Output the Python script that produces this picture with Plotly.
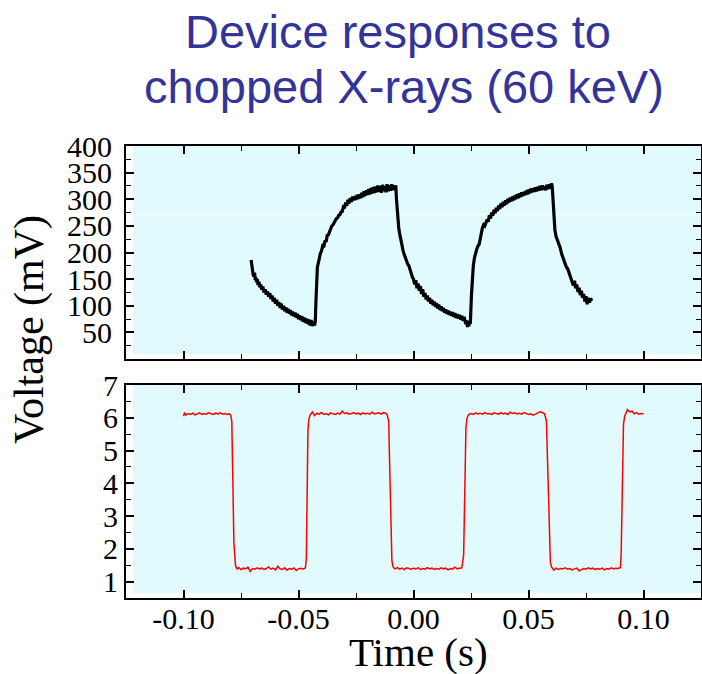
import plotly.graph_objects as go

# ---------------- data ----------------
# Top panel: device response (mV) vs time (s)
resp_t = [
    -0.0706, -0.0703, -0.0700, -0.0697, -0.0694, -0.0691, -0.0688, -0.0685, -0.0682, -0.0679,
    -0.0676, -0.0672, -0.0668, -0.0664, -0.0660, -0.0655, -0.0650, -0.0645, -0.0640, -0.0635,
    -0.0630, -0.0625, -0.0620, -0.0615, -0.0610, -0.0605, -0.0600, -0.0595, -0.0590, -0.0585,
    -0.0580, -0.0575, -0.0570, -0.0565, -0.0560, -0.0555, -0.0550, -0.0545, -0.0540, -0.0535,
    -0.0530, -0.0525, -0.0520, -0.0515, -0.0510, -0.0505, -0.0500, -0.0495, -0.0490, -0.0485,
    -0.0480, -0.0475, -0.0470, -0.0465, -0.0460, -0.0455, -0.0450, -0.0445, -0.0440, -0.0435,
    -0.0430, -0.0427,
    -0.0424, -0.0421, -0.0418, -0.0414, -0.0410, -0.0405, -0.0400, -0.0395, -0.0390, -0.0385,
    -0.0380, -0.0375, -0.0370, -0.0365, -0.0360, -0.0355, -0.0350, -0.0345, -0.0340, -0.0335,
    -0.0330, -0.0325, -0.0320, -0.0315, -0.0310, -0.0305, -0.0300, -0.0295, -0.0290, -0.0285,
    -0.0280, -0.0275, -0.0270, -0.0265, -0.0260, -0.0255, -0.0250, -0.0245, -0.0240, -0.0235,
    -0.0230, -0.0225, -0.0220, -0.0215, -0.0210, -0.0205, -0.0200, -0.0195, -0.0190, -0.0185,
    -0.0180, -0.0175, -0.0170, -0.0165, -0.0160, -0.0155, -0.0150, -0.0145, -0.0140, -0.0135,
    -0.0130, -0.0125, -0.0120, -0.0115, -0.0110, -0.0105, -0.0100, -0.0095, -0.0090, -0.0085,
    -0.0080, -0.0077,
    -0.0074, -0.0071, -0.0068, -0.0064, -0.0060, -0.0055, -0.0050, -0.0045, -0.0040, -0.0035,
    -0.0030, -0.0025, -0.0020, -0.0015, -0.0010, -0.0005, 0.0000, 0.0005, 0.0010, 0.0015,
    0.0020, 0.0025, 0.0030, 0.0035, 0.0040, 0.0045, 0.0050, 0.0055, 0.0060, 0.0065,
    0.0070, 0.0075, 0.0080, 0.0085, 0.0090, 0.0095, 0.0100, 0.0105, 0.0110, 0.0115,
    0.0120, 0.0125, 0.0130, 0.0135, 0.0140, 0.0145, 0.0150, 0.0155, 0.0160, 0.0165,
    0.0170, 0.0175, 0.0180, 0.0185, 0.0190, 0.0195, 0.0200, 0.0205, 0.0210, 0.0215,
    0.0220, 0.0225, 0.0230, 0.0235, 0.0238, 0.0241, 0.0244, 0.0247,
    0.0252, 0.0256, 0.0260, 0.0265, 0.0270, 0.0275, 0.0280, 0.0285, 0.0290, 0.0295,
    0.0300, 0.0305, 0.0310, 0.0315, 0.0320, 0.0325, 0.0330, 0.0335, 0.0340, 0.0345,
    0.0350, 0.0355, 0.0360, 0.0365, 0.0370, 0.0375, 0.0380, 0.0385, 0.0390, 0.0395,
    0.0400, 0.0405, 0.0410, 0.0415, 0.0420, 0.0425, 0.0430, 0.0435, 0.0440, 0.0445,
    0.0450, 0.0455, 0.0460, 0.0465, 0.0470, 0.0475, 0.0480, 0.0485, 0.0490, 0.0495,
    0.0500, 0.0505, 0.0510, 0.0515, 0.0520, 0.0525, 0.0530, 0.0535, 0.0540, 0.0545,
    0.0550, 0.0555, 0.0560, 0.0565, 0.0570, 0.0575, 0.0580, 0.0585, 0.0590, 0.0595,
    0.0600, 0.0603,
    0.0607, 0.0611, 0.0615, 0.0620, 0.0625, 0.0630, 0.0637, 0.0645, 0.0650, 0.0655,
    0.0660, 0.0665, 0.0670, 0.0675, 0.0680, 0.0685, 0.0690, 0.0695, 0.0700, 0.0705,
    0.0710, 0.0715, 0.0720, 0.0725, 0.0730, 0.0735, 0.0740, 0.0745, 0.0750, 0.0755,
    0.0760, 0.0765, 0.0770, 0.0775,
]
resp_mv = [
    186, 172, 168, 158, 155, 162, 148, 153, 144, 150,
    139, 145, 135, 140, 130, 136, 125, 131, 121, 127,
    117, 124, 113, 119, 108, 115, 104, 111, 100, 107,
    96, 104, 93, 100, 90, 97, 87, 94, 85, 92,
    82, 89, 80, 87, 78, 85, 75, 82, 73, 80,
    70, 78, 68, 76, 66, 74, 63, 73, 62, 70,
    63, 71,
    110, 150, 172, 180, 190, 198, 203, 212, 210, 222,
    220, 232, 233, 240, 243, 250, 252, 257, 259, 264,
    265, 270, 271, 276, 277, 285, 283, 294, 288, 299,
    292, 302, 295, 305, 298, 306, 299, 308, 301, 309,
    302, 312, 304, 315, 306, 317, 308, 319, 309, 321,
    311, 323, 312, 324, 313, 326, 314, 325, 312, 327,
    315, 325, 313, 328, 315, 326, 316, 328, 317, 326,
    318, 326,
    300, 275, 258, 245, 235, 222, 212, 203, 196, 188,
    184, 178, 175, 168, 160, 154, 150, 140, 148, 133,
    142, 128, 137, 122, 131, 117, 124, 112, 119, 108,
    115, 104, 111, 101, 108, 98, 105, 95, 102, 92,
    99, 90, 96, 87, 93, 85, 91, 83, 89, 81,
    88, 79, 86, 77, 84, 76, 83, 74, 81, 72,
    79, 70, 72, 60, 72, 62, 70, 66,
    120, 160, 175, 190, 200, 206, 212, 215, 225, 240,
    247, 252, 250, 256, 262, 258, 270, 264, 275, 269,
    280, 274, 284, 278, 288, 282, 292, 285, 295, 288,
    298, 291, 301, 294, 303, 296, 305, 298, 307, 300,
    309, 302, 311, 304, 313, 306, 314, 308, 316, 309,
    318, 311, 320, 313, 321, 314, 322, 315, 323, 316,
    325, 317, 326, 318, 324, 317, 327, 319, 328, 320,
    330, 325,
    290, 255, 241, 230, 225, 218, 210, 196, 190, 180,
    178, 172, 170, 163, 158, 152, 147, 138, 147, 133,
    140, 126, 134, 120, 128, 115, 122, 108, 118, 103,
    115, 106, 114, 109,
]

# Bottom panel: chopper reference signal (V) vs time (s)
chop_t = [
    -0.1000, -0.0995, -0.0990, -0.0980, -0.0970, -0.0960, -0.0950, -0.0940, -0.0930, -0.0920,
    -0.0910, -0.0900, -0.0890, -0.0880, -0.0870, -0.0860, -0.0850, -0.0840, -0.0830, -0.0820,
    -0.0810, -0.0800, -0.0795,
    -0.0790, -0.0787, -0.0784, -0.0781, -0.0778, -0.0774, -0.0770,
    -0.0765, -0.0760, -0.0750, -0.0740, -0.0730, -0.0720, -0.0710, -0.0700, -0.0690, -0.0680,
    -0.0670, -0.0660, -0.0650, -0.0640, -0.0630, -0.0620, -0.0610, -0.0600, -0.0590, -0.0580,
    -0.0570, -0.0560, -0.0550, -0.0540, -0.0530, -0.0520, -0.0510, -0.0500, -0.0490, -0.0480,
    -0.0470,
    -0.0466, -0.0464, -0.0462, -0.0459, -0.0455, -0.0450,
    -0.0445, -0.0440, -0.0430, -0.0420, -0.0410, -0.0400, -0.0390, -0.0380, -0.0370, -0.0360,
    -0.0350, -0.0340, -0.0330, -0.0320, -0.0310, -0.0300, -0.0290, -0.0280, -0.0270, -0.0260,
    -0.0250, -0.0240, -0.0230, -0.0220, -0.0210, -0.0200, -0.0190, -0.0180, -0.0170, -0.0160,
    -0.0150, -0.0140, -0.0130, -0.0120, -0.0115,
    -0.0108, -0.0105, -0.0102, -0.0098, -0.0094, -0.0090, -0.0086,
    -0.0080, -0.0070, -0.0060, -0.0050, -0.0040, -0.0030, -0.0020, -0.0010, 0.0000, 0.0010,
    0.0020, 0.0030, 0.0040, 0.0050, 0.0060, 0.0070, 0.0080, 0.0090, 0.0100, 0.0110,
    0.0120, 0.0130, 0.0140, 0.0150, 0.0160, 0.0170, 0.0180, 0.0190, 0.0200, 0.0210,
    0.0218, 0.0221, 0.0224, 0.0228, 0.0233, 0.0240,
    0.0250, 0.0260, 0.0270, 0.0280, 0.0290, 0.0300, 0.0310, 0.0320, 0.0330, 0.0340,
    0.0350, 0.0360, 0.0370, 0.0380, 0.0390, 0.0400, 0.0410, 0.0420, 0.0430, 0.0440,
    0.0450, 0.0460, 0.0470, 0.0480, 0.0490, 0.0500, 0.0510, 0.0520, 0.0530, 0.0540,
    0.0550, 0.0560, 0.0570,
    0.0578, 0.0582, 0.0586, 0.0590, 0.0595, 0.0600, 0.0605,
    0.0610, 0.0620, 0.0630, 0.0640, 0.0650, 0.0660, 0.0670, 0.0680, 0.0690, 0.0700,
    0.0710, 0.0720, 0.0730, 0.0740, 0.0750, 0.0760, 0.0770, 0.0780, 0.0790, 0.0800,
    0.0810, 0.0820, 0.0830, 0.0840, 0.0850, 0.0860, 0.0870, 0.0880, 0.0890, 0.0900,
    0.0903, 0.0906, 0.0909, 0.0913, 0.0918, 0.0923,
    0.0930, 0.0940, 0.0950, 0.0960, 0.0970, 0.0980, 0.0990, 0.1000,
]
chop_v = [
    6.05, 6.16, 6.08, 6.13, 6.10, 6.14, 6.09, 6.12, 6.15, 6.10,
    6.13, 6.11, 6.16, 6.12, 6.10, 6.14, 6.12, 6.15, 6.11, 6.13,
    6.10, 6.12, 6.08,
    5.90, 5.00, 3.50, 2.20, 1.70, 1.50, 1.42,
    1.38, 1.43, 1.37, 1.41, 1.39, 1.44, 1.31, 1.40, 1.38, 1.42,
    1.39, 1.41, 1.37, 1.40, 1.45, 1.38, 1.41, 1.36, 1.47, 1.39,
    1.37, 1.42, 1.35, 1.40, 1.38, 1.42, 1.34, 1.39, 1.41, 1.38,
    1.42,
    1.70, 3.00, 4.60, 5.60, 5.95, 6.08,
    6.12, 6.18, 6.07, 6.14, 6.11, 6.16, 6.10, 6.13, 6.09, 6.15,
    6.12, 6.10, 6.14, 6.11, 6.20, 6.13, 6.15, 6.11, 6.13, 6.16,
    6.12, 6.14, 6.10, 6.15, 6.12, 6.14, 6.11, 6.17, 6.12, 6.14,
    6.15, 6.11, 6.16, 6.13, 6.10,
    5.90, 5.00, 3.50, 2.20, 1.65, 1.48, 1.42,
    1.39, 1.43, 1.38, 1.41, 1.37, 1.42, 1.40, 1.38, 1.41, 1.39,
    1.42, 1.37, 1.40, 1.38, 1.43, 1.39, 1.41, 1.37, 1.40, 1.38,
    1.42, 1.39, 1.41, 1.36, 1.40, 1.38, 1.44, 1.39, 1.41, 1.42,
    1.80, 3.20, 4.80, 5.70, 6.00, 6.10,
    6.13, 6.10, 6.15, 6.12, 6.14, 6.11, 6.16, 6.12, 6.13, 6.10,
    6.15, 6.13, 6.11, 6.16, 6.12, 6.14, 6.10, 6.17, 6.13, 6.15,
    6.12, 6.14, 6.11, 6.16, 6.13, 6.10, 6.12, 6.08, 6.11, 6.14,
    6.18, 6.16, 6.12,
    5.90, 4.80, 3.30, 2.10, 1.60, 1.45, 1.38,
    1.35, 1.41, 1.37, 1.40, 1.39, 1.42, 1.38, 1.40, 1.36, 1.39,
    1.41, 1.33, 1.37, 1.40, 1.38, 1.42, 1.39, 1.41, 1.37, 1.40,
    1.38, 1.41, 1.36, 1.40, 1.38, 1.42, 1.39, 1.41, 1.40, 1.43,
    1.90, 3.40, 4.90, 5.80, 6.05, 6.15,
    6.25, 6.18, 6.20, 6.12, 6.16, 6.11, 6.13, 6.12,
]

x_tickvals = [-0.10, -0.05, 0.00, 0.05, 0.10]
x_ticktext = ["-0.10", "-0.05", "0.00", "0.05", "0.10"]
top_tickvals = [50, 100, 150, 200, 250, 300, 350, 400]
bot_tickvals = [1, 2, 3, 4, 5, 6, 7]

# ---------------- layout helpers ----------------
W, H = 702, 674
def px_x(p):
    return p / W
def px_y(p):
    return 1 - p / H

XL, XR = 126, 701
TOP_T, TOP_B = 146, 359
BOT_T, BOT_B = 385, 598

serif = "Liberation Serif, Times New Roman, serif"
sans = "Liberation Sans, Arial, sans-serif"
bg = "#E0FAFD"

fig = go.Figure()
fig.add_trace(go.Scatter(x=resp_t, y=resp_mv, mode="lines",
                         line=dict(color="black", width=3.2), xaxis="x", yaxis="y",
                         showlegend=False))
fig.add_trace(go.Scatter(x=chop_t, y=chop_v, mode="lines",
                         line=dict(color="#FF0000", width=1.5), xaxis="x2", yaxis="y2",
                         showlegend=False))

common_axis = dict(showline=True, linecolor="black", linewidth=2, mirror="ticks",
                   ticks="inside", ticklen=8, tickwidth=1.5, tickcolor="black",
                   showgrid=False, zeroline=False, automargin=False,
                   tickfont=dict(family=serif, size=30, color="black"))

x_common = dict(common_axis, range=[-0.125, 0.125], tickvals=x_tickvals, ticktext=x_ticktext,
                minor=dict(dtick=0.025, tick0=0, ticks="inside", ticklen=5, tickwidth=1.2,
                           tickcolor="black", showgrid=False))

fig.update_layout(
    width=W, height=H,
    margin=dict(l=0, r=0, t=0, b=0, autoexpand=False),
    paper_bgcolor="white", plot_bgcolor="white",
    showlegend=False,
    xaxis=dict(x_common, domain=[px_x(XL), px_x(XR)], anchor="y", showticklabels=False),
    yaxis=dict(common_axis, domain=[px_y(TOP_B), px_y(TOP_T)], anchor="x",
               range=[0, 400], tickvals=top_tickvals,
               minor=dict(dtick=25, tick0=0, ticks="inside", ticklen=5, tickwidth=1.2,
                          tickcolor="black", showgrid=False),
               ticklabelstandoff=6),
    xaxis2=dict(x_common, domain=[px_x(XL), px_x(XR)], anchor="y2", ticklabelstandoff=-7),
    yaxis2=dict(common_axis, domain=[px_y(BOT_B), px_y(BOT_T)], anchor="x2",
                range=[0.5, 7], tickvals=bot_tickvals,
                minor=dict(dtick=0.5, tick0=0, ticks="inside", ticklen=5, tickwidth=1.2,
                           tickcolor="black", showgrid=False)),
)

# cyan plot backgrounds (slightly inset from left/bottom axis lines)
for xr, yr in (("x domain", "y domain"), ("x2 domain", "y2 domain")):
    fig.add_shape(type="rect", xref=xr, yref=yr, x0=7 / 575, x1=1, y0=5 / 213, y1=1,
                  fillcolor=bg, line=dict(width=0), layer="below")
# faint white streak in upper panel
fig.add_shape(type="line", xref="x domain", yref="y", x0=7 / 575, x1=1, y0=271, y1=271,
              line=dict(color="white", width=1), layer="below")

# titles
title_color = "#333399"
fig.add_annotation(text="Device responses to", x=px_x(398), y=px_y(32), xref="paper", yref="paper",
                   showarrow=False, xanchor="center", yanchor="middle",
                   font=dict(family=sans, size=47, color=title_color))
fig.add_annotation(text="chopped X-rays (60 keV)", x=px_x(404), y=px_y(87), xref="paper", yref="paper",
                   showarrow=False, xanchor="center", yanchor="middle",
                   font=dict(family=sans, size=47, color=title_color))
fig.add_annotation(text="Time (s)", x=px_x(418), y=px_y(652), xref="paper", yref="paper",
                   showarrow=False, xanchor="center", yanchor="middle",
                   font=dict(family=serif, size=41, color="black"))
fig.add_annotation(text="Voltage (mV)", x=px_x(30), y=px_y(330), xref="paper", yref="paper",
                   showarrow=False, xanchor="center", yanchor="middle", textangle=-90,
                   font=dict(family=serif, size=42, color="black"))

fig.write_html("out.html")
